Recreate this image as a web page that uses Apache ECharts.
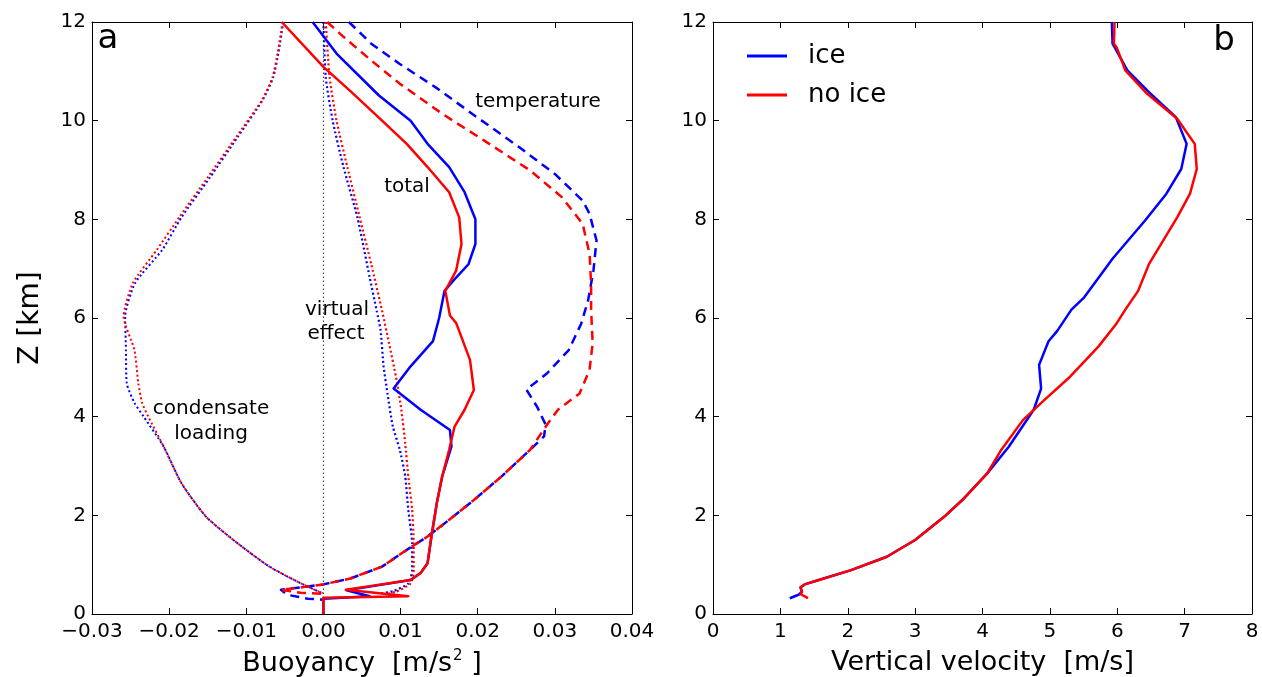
<!DOCTYPE html>
<html>
<head>
<meta charset="utf-8">
<script src="https://cdn.jsdelivr.net/npm/echarts@6/dist/echarts.min.js"></script>
<style>
html,body{margin:0;padding:0;background:#fff;}
#c{width:1262px;height:677px;}
</style>
</head>
<body>
<div id="c"></div>
<script>
// ---- Panel a: buoyancy profiles [buoyancy (m/s^2), Z (km)] ----
const tempIce = [[0.0033,12],[0.0062,11.56],[0.0099,11.15],[0.0145,10.68],[0.0199,10.07],[0.0254,9.46],[0.0300,8.92],[0.0336,8.38],[0.0345,8.11],[0.0354,7.57],[0.0350,6.96],[0.0343,6.35],[0.0334,5.88],[0.0318,5.35],[0.0290,4.88],[0.0263,4.55],[0.0277,4.2],[0.0288,3.84],[0.0286,3.6],[0.0268,3.33],[0.0231,2.79],[0.0195,2.31],[0.0163,1.91],[0.0135,1.57],[0.0108,1.3],[0.0076,0.96],[0.0035,0.72],[0.0,0.60],[-0.0024,0.55],[-0.0055,0.49],[-0.0047,0.39],[-0.0020,0.31],[0.0,0.29]];
const tempNoIce = [[0.0005,12],[0.0026,11.7],[0.0062,11.22],[0.0099,10.75],[0.0154,10.14],[0.0208,9.6],[0.0268,8.99],[0.0309,8.45],[0.0336,7.91],[0.0345,7.3],[0.0347,6.69],[0.0347,6.17],[0.0349,5.49],[0.0345,4.95],[0.0332,4.47],[0.0304,4.14],[0.0290,3.84],[0.0268,3.33],[0.0231,2.79],[0.0195,2.31],[0.0163,1.91],[0.0135,1.57],[0.0108,1.3],[0.0076,0.96],[0.0035,0.72],[0.0,0.60],[-0.0024,0.55],[-0.0055,0.49],[-0.0030,0.43],[0.0,0.41]];
const totalIce = [[-0.0014,12],[0.0017,11.36],[0.0072,10.51],[0.0113,10.0],[0.0135,9.53],[0.0163,9.06],[0.0183,8.55],[0.0197,8.0],[0.0197,7.5],[0.0188,7.09],[0.0172,6.82],[0.0157,6.55],[0.0150,6.0],[0.0142,5.53],[0.0113,5.02],[0.0091,4.57],[0.0126,4.14],[0.0164,3.73],[0.0166,3.4],[0.0154,2.79],[0.0147,2.25],[0.0140,1.57],[0.0135,1.03],[0.0126,0.83],[0.0113,0.69],[0.0062,0.56],[0.0030,0.48],[0.0060,0.36],[0.0,0.31],[0.0,0.0]];
const totalNoIce = [[-0.0054,12],[0.0,11.09],[0.0035,10.6],[0.0076,10.0],[0.0108,9.53],[0.0135,9.06],[0.0163,8.55],[0.0176,8.04],[0.0179,7.5],[0.0172,6.96],[0.0158,6.55],[0.0164,6.05],[0.0172,5.9],[0.0190,5.15],[0.0195,4.54],[0.0183,4.14],[0.0170,3.8],[0.0163,3.33],[0.0154,2.79],[0.0147,2.25],[0.0140,1.57],[0.0135,1.03],[0.0126,0.83],[0.0113,0.69],[0.0062,0.57],[0.0029,0.49],[0.0110,0.36],[0.0,0.33],[0.0,0.0]];
const virtIce = [[0.0,12],[0.0003,10.88],[0.0012,10.0],[0.0026,9.06],[0.0044,8.04],[0.0060,6.82],[0.0069,6.15],[0.0074,5.76],[0.0078,5.02],[0.0083,4.47],[0.0090,3.8],[0.0099,3.33],[0.0106,2.79],[0.0110,2.11],[0.0115,1.43],[0.0115,0.89],[0.0110,0.62],[0.0090,0.46],[0.0075,0.42]];
const virtNoIce = [[0.0003,12],[0.0008,10.88],[0.0017,10.0],[0.0031,9.06],[0.0047,8.04],[0.0062,7.09],[0.0076,6.15],[0.0085,5.49],[0.0094,4.81],[0.0101,4.14],[0.0106,3.46],[0.0110,2.79],[0.0115,2.11],[0.0117,1.43],[0.0117,0.89],[0.0113,0.62],[0.0094,0.45],[0.0080,0.40]];
const condIce = [[-0.0052,12],[-0.0058,11.4],[-0.0065,10.88],[-0.0079,10.41],[-0.0111,9.67],[-0.0147,8.85],[-0.0184,8.04],[-0.0209,7.38],[-0.0244,6.71],[-0.0257,6.03],[-0.0256,5.35],[-0.0255,4.68],[-0.0245,4.28],[-0.0233,4.0],[-0.0207,3.39],[-0.0184,2.65],[-0.0152,1.97],[-0.0111,1.43],[-0.0070,0.96],[-0.0029,0.62],[-0.0001,0.42]];
const condNoIce = [[-0.0053,12],[-0.0059,11.4],[-0.0066,10.88],[-0.0080,10.41],[-0.0113,9.67],[-0.0150,8.85],[-0.0187,8.04],[-0.0216,7.38],[-0.0247,6.71],[-0.0259,6.03],[-0.0245,5.35],[-0.0240,4.68],[-0.0235,4.28],[-0.0227,4.0],[-0.0207,3.39],[-0.0184,2.65],[-0.0152,1.97],[-0.0111,1.43],[-0.0070,0.96],[-0.0029,0.62],[-0.0001,0.42]];
const zeroLine = [[0,0],[0,12]];

// ---- Panel b: vertical velocity [w (m/s), Z (km)] ----
const wIce = [[5.92,12],[5.93,11.56],[5.96,11.49],[6.15,11.02],[6.47,10.58],[6.87,10.07],[7.03,9.53],[6.95,9.02],[6.73,8.52],[6.41,7.97],[5.93,7.2],[5.51,6.42],[5.32,6.17],[5.11,5.74],[4.98,5.53],[4.84,5.05],[4.87,4.57],[4.76,4.14],[4.39,3.39],[4.07,2.85],[3.70,2.31],[3.43,1.97],[3.00,1.5],[2.58,1.16],[2.05,0.89],[1.57,0.69],[1.36,0.60],[1.30,0.54],[1.32,0.45],[1.27,0.39],[1.14,0.32]];
const wNoIce = [[5.96,12],[5.95,11.56],[5.99,11.49],[6.12,11.02],[6.44,10.55],[6.89,10.04],[7.15,9.53],[7.18,9.02],[7.08,8.52],[6.89,8.04],[6.47,7.09],[6.31,6.55],[6.12,6.17],[5.99,5.89],[5.72,5.42],[5.30,4.81],[4.92,4.34],[4.60,3.93],[4.28,3.33],[4.07,2.85],[3.70,2.31],[3.43,1.97],[3.00,1.5],[2.58,1.16],[2.05,0.89],[1.57,0.69],[1.36,0.60],[1.30,0.54],[1.32,0.45],[1.30,0.40],[1.41,0.32]];

// ---- tick labels ----
const buoyTicks = [-0.03,-0.02,-0.01,0.00,0.01,0.02,0.03,0.04];
const wTicks = [0,1,2,3,4,5,6,7,8];
const zTicks = [0,2,4,6,8,10,12];

const FONT = 'DejaVu Sans';
const BLUE = '#0000ff', RED = '#ff0000';

function fmtBuoy(v){
  const r = Math.round(v*100)/100;
  if (Math.abs(r) < 1e-9) return '0.00';
  return (r<0?'\u2212':'') + Math.abs(r).toFixed(2);
}

function axisBase(extra){
  return Object.assign({
    type:'value',
    axisLine:{show:true,onZero:false,lineStyle:{color:'#000',width:1}},
    axisTick:{show:true,inside:true,length:6,lineStyle:{color:'#000',width:1}},
    splitLine:{show:false},
    axisLabel:{show:true,color:'#000',fontFamily:FONT,fontSize:20,margin:6},
  }, extra);
}
function hidden(a){ a.axisLabel = {show:false}; return a; }

const chart = echarts.init(document.getElementById('c'), null, {renderer:'canvas'});

function line(name, data, xi, color, type, width, smooth){
  return {
    name:name, type:'line', xAxisIndex:xi, yAxisIndex:xi, data:data,
    symbol:'none', smooth:smooth||false, animation:false, silent:true,
    lineStyle:{color:color, width:width, type:type, cap:'butt', join:'round'},
    itemStyle:{color:color}
  };
}

const DASH = [9,6];
const DOT = [2,2.6];

const option = {
  backgroundColor:'#fff',
  animation:false,
  grid:[
    {left:92, top:22, width:540, height:592, outerBoundsMode:'none', containLabel:false},
    {left:713, top:22, width:539, height:592, outerBoundsMode:'none', containLabel:false}
  ],
  xAxis:[
    axisBase({gridIndex:0, position:'bottom', min:buoyTicks[0], max:buoyTicks[buoyTicks.length-1], interval:0.01,
      axisLabel:{show:true,color:'#000',fontFamily:FONT,fontSize:20,margin:8,formatter:fmtBuoy},
      name:'{t|Buoyancy  [m/s}{s|2}{t| ]}', nameLocation:'middle', nameGap:35,
      nameTextStyle:{rich:{t:{fontFamily:FONT,fontSize:27,color:'#000'},s:{fontFamily:FONT,fontSize:15,color:'#000',verticalAlign:'top',padding:[0,0,14,1]}}}}),
    hidden(axisBase({gridIndex:0, position:'top', min:-0.03, max:0.04, interval:0.01})),
    axisBase({gridIndex:1, position:'bottom', min:wTicks[0], max:wTicks[wTicks.length-1], interval:1,
      axisLabel:{show:true,color:'#000',fontFamily:FONT,fontSize:20,margin:8},
      name:'Vertical velocity  [m/s]', nameLocation:'middle', nameGap:35,
      nameTextStyle:{fontFamily:FONT,fontSize:27,color:'#000'}}),
    hidden(axisBase({gridIndex:1, position:'top', min:0, max:8, interval:1}))
  ],
  yAxis:[
    axisBase({gridIndex:0, position:'left', min:zTicks[0], max:zTicks[zTicks.length-1], interval:2,
      name:'Z [km]', nameLocation:'middle', nameGap:47, nameRotate:90,
      nameTextStyle:{fontFamily:FONT,fontSize:28,color:'#000'}}),
    hidden(axisBase({gridIndex:0, position:'right', min:0, max:12, interval:2})),
    axisBase({gridIndex:1, position:'left', min:0, max:12, interval:2}),
    hidden(axisBase({gridIndex:1, position:'right', min:0, max:12, interval:2}))
  ],
  legend:{
    show:true, orient:'vertical', left:742, top:36,
    data:[{name:'ice',icon:'rect'},{name:'no ice',icon:'rect'}],
    itemWidth:40, itemHeight:3, itemGap:9,
    textStyle:{fontFamily:FONT,fontSize:26,color:'#000',padding:[0,0,0,16],lineHeight:30},
    selectedMode:false
  },
  series:[
    line('zero', zeroLine, 0, '#333', [1.5,2.5], 1),
    line('cond ice', condIce, 0, BLUE, DOT, 2, 0.2),
    line('cond no ice', condNoIce, 0, RED, DOT, 2, 0.2),
    line('virt ice', virtIce, 0, BLUE, DOT, 2.2, 0.2),
    line('virt no ice', virtNoIce, 0, RED, DOT, 2.2, 0.2),
    line('temp ice', tempIce, 0, BLUE, DASH, 2.5),
    line('temp no ice', tempNoIce, 0, RED, DASH, 2.5),
    line('total ice', totalIce, 0, BLUE, 'solid', 2.5),
    line('total no ice', totalNoIce, 0, RED, 'solid', 2.5),
    line('ice', wIce, 2, BLUE, 'solid', 2.5),
    line('no ice', wNoIce, 2, RED, 'solid', 2.5)
  ],
  graphic:[
    {type:'text', x:108, y:39, style:{text:'a', fontFamily:FONT, fontSize:34, fill:'#000', align:'center', verticalAlign:'middle'}},
    {type:'text', x:1224, y:41, style:{text:'b', fontFamily:FONT, fontSize:34, fill:'#000', align:'center', verticalAlign:'middle'}},
    {type:'text', x:538, y:102, style:{text:'temperature', fontFamily:FONT, fontSize:20, fill:'#000', align:'center', verticalAlign:'middle'}},
    {type:'text', x:407, y:187, style:{text:'total', fontFamily:FONT, fontSize:20, fill:'#000', align:'center', verticalAlign:'middle'}},
    {type:'text', x:337, y:310, style:{text:'virtual', fontFamily:FONT, fontSize:20, fill:'#000', align:'center', verticalAlign:'middle'}},
    {type:'text', x:336, y:334, style:{text:'effect', fontFamily:FONT, fontSize:20, fill:'#000', align:'center', verticalAlign:'middle'}},
    {type:'text', x:211, y:409, style:{text:'condensate', fontFamily:FONT, fontSize:20, fill:'#000', align:'center', verticalAlign:'middle'}},
    {type:'text', x:211, y:434, style:{text:'loading', fontFamily:FONT, fontSize:20, fill:'#000', align:'center', verticalAlign:'middle'}}
  ]
};
chart.setOption(option);
</script>
</body>
</html>
